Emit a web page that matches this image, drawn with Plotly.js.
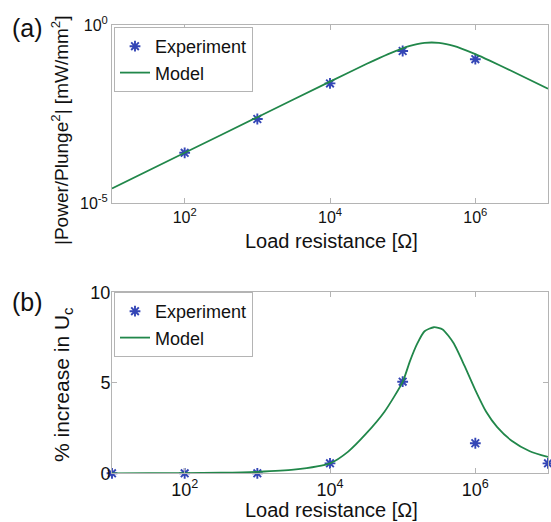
<!DOCTYPE html>
<html>
<head>
<meta charset="utf-8">
<script src="https://cdn.plot.ly/plotly-3.0.1.min.js"></script>
<style>html,body{margin:0;padding:0;background:#fff;}#chart{width:551px;height:522px;}</style>
</head>
<body>
<div id="chart"></div>
<script>
// ---- data ----
const xTickVals = [100, 10000, 1000000];
const xTickText = ['10<sup>2</sup>', '10<sup>4</sup>', '10<sup>6</sup>'];

// panel (a): power per plunge^2
const expA_R = [100, 1000, 10000, 100000, 1000000];
const expA_P = [2.57e-4, 2.29e-3, 0.0229, 0.186, 0.1096];
const modA_R = [10, 100, 1000, 1e4, 3.16e4, 6.31e4, 1e5, 1.26e5, 1.58e5, 2e5, 2.51e5, 3.16e5, 3.98e5, 5.01e5, 6.31e5, 1e6, 1.58e6, 3.16e6, 1e7];
const modA_P = [2.57e-5, 2.57e-4, 2.57e-3, 0.02564, 0.0800, 0.1524, 0.2218, 0.2588, 0.2911, 0.3144, 0.3228, 0.3145, 0.2911, 0.2588, 0.2218, 0.1524, 0.0998, 0.0509, 0.01622];
const yTickValsA = [1e-5, 1];
const yTickTextA = ['10<sup>-5</sup>', '10<sup>0</sup>'];

// panel (b): % increase in Uc
const expB_R = [10, 100, 1000, 10000, 100000, 1000000, 10000000];
const expB_U = [0, 0, 0, 0.55, 5.06, 1.66, 0.55];
const modB_R = [10, 31.6, 100, 316, 1000, 3160, 1e4, 1.78e4, 3.16e4, 5.62e4, 1e5, 1.26e5, 1.58e5, 2e5, 2.69e5, 3.55e5, 5.01e5, 7.08e5, 1e6, 1.41e6, 2e6, 3.16e6, 5.62e6, 1e7];
const modB_U = [0, 0.003, 0.01, 0.03, 0.08, 0.2, 0.55, 1.2, 2.2, 3.4, 5.05, 6.2, 7.15, 7.85, 8.07, 7.95, 7.2, 5.95, 4.6, 3.4, 2.55, 1.8, 1.22, 0.9];
const yTickValsB = [0, 5, 10];

// ---- styles ----
const FONT = 'Liberation Sans, Arial, sans-serif';
const BLUE = '#3446b6';
const GREEN = '#21874a';
const FRAME = '#b4b4b4';

const expMarker = {symbol: 'asterisk-open', size: 9, color: BLUE, line: {color: BLUE, width: 1.9}};

const traces = [
  {x: expA_R, y: expA_P, xaxis: 'x', yaxis: 'y', mode: 'markers', name: 'Experiment', marker: expMarker, legend: 'legend', cliponaxis: false},
  {x: modA_R, y: modA_P, xaxis: 'x', yaxis: 'y', mode: 'lines', name: 'Model', line: {color: GREEN, width: 1.8, shape: 'spline', smoothing: 0.6}, legend: 'legend'},
  {x: expB_R, y: expB_U, xaxis: 'x2', yaxis: 'y2', mode: 'markers', name: 'Experiment', marker: expMarker, legend: 'legend2', cliponaxis: false},
  {x: modB_R, y: modB_U, xaxis: 'x2', yaxis: 'y2', mode: 'lines', name: 'Model', line: {color: GREEN, width: 1.8, shape: 'spline', smoothing: 0.6}, legend: 'legend2'}
];

function xAxis(anchor, fs) {
  return {
    type: 'log', range: [1, 7], domain: [112/551, 548/551], anchor: anchor,
    tickvals: xTickVals, ticktext: xTickText, ticks: 'inside', ticklen: 5, tickcolor: FRAME,
    showline: true, linecolor: FRAME, linewidth: 1, mirror: 'ticks', showgrid: false, zeroline: false,
    tickfont: {family: FONT, size: fs, color: '#111'}, automargin: false
  };
}

const layout = {
  width: 551, height: 522,
  margin: {l: 0, r: 0, t: 0, b: 0},
  paper_bgcolor: '#fff', plot_bgcolor: '#fff',
  font: {family: FONT, color: '#111'},
  showlegend: true,
  xaxis: xAxis('y', 16),
  xaxis2: xAxis('y2', 18),
  yaxis: {
    type: 'log', range: [-5, 0], domain: [1 - 203/522, 1 - 25/522], anchor: 'x',
    tickvals: yTickValsA, ticktext: yTickTextA, ticks: 'inside', ticklen: 5, tickcolor: FRAME,
    showline: true, linecolor: FRAME, linewidth: 1, mirror: 'ticks', showgrid: false, zeroline: false,
    tickfont: {family: FONT, size: 16, color: '#111'}, automargin: false
  },
  yaxis2: {
    range: [0, 10], domain: [1 - 473.3/522, 1 - 292.3/522], anchor: 'x2',
    tickvals: yTickValsB, ticks: 'inside', ticklen: 5, tickcolor: FRAME,
    showline: true, linecolor: FRAME, linewidth: 1, mirror: 'ticks', showgrid: false, zeroline: false,
    tickfont: {family: FONT, size: 18, color: '#111'}, automargin: false, ticklabelstandoff: -3
  },
  legend: {
    x: 114/551, y: 1 - 27/522, xanchor: 'left', yanchor: 'top',
    bgcolor: '#fff', bordercolor: FRAME, borderwidth: 1, itemwidth: 30,
    font: {family: FONT, size: 18, color: '#111'}, tracegroupgap: 0
  },
  legend2: {
    x: 114/551, y: 1 - 292/522, xanchor: 'left', yanchor: 'top',
    bgcolor: '#fff', bordercolor: FRAME, borderwidth: 1, itemwidth: 30,
    font: {family: FONT, size: 18, color: '#111'}, tracegroupgap: 0
  },
  annotations: [
    {text: '(a)', xref: 'paper', yref: 'paper', x: 27/551, y: 1 - 28/522, xanchor: 'center', yanchor: 'middle', showarrow: false, font: {family: FONT, size: 25, color: '#111'}},
    {text: '(b)', xref: 'paper', yref: 'paper', x: 27/551, y: 1 - 302/522, xanchor: 'center', yanchor: 'middle', showarrow: false, font: {family: FONT, size: 25, color: '#111'}},
    {text: '|Power/Plunge<sup>2</sup>| [mW/mm<sup>2</sup>]', xref: 'paper', yref: 'paper', x: 60/551, y: 1 - 130/522, xanchor: 'center', yanchor: 'middle', textangle: -90, showarrow: false, font: {family: FONT, size: 19, color: '#111'}},
    {text: '% increase in U<sub>c</sub>', xref: 'paper', yref: 'paper', x: 63/551, y: 1 - 385/522, xanchor: 'center', yanchor: 'middle', textangle: -90, showarrow: false, font: {family: FONT, size: 21, color: '#111'}},
    {text: 'Load resistance [Ω]', xref: 'paper', yref: 'paper', x: 331/551, y: 1 - 241/522, xanchor: 'center', yanchor: 'middle', showarrow: false, font: {family: FONT, size: 20, color: '#111'}},
    {text: 'Load resistance [Ω]', xref: 'paper', yref: 'paper', x: 331/551, y: 1 - 510/522, xanchor: 'center', yanchor: 'middle', showarrow: false, font: {family: FONT, size: 20, color: '#111'}}
  ]
};

Plotly.newPlot('chart', traces, layout, {displayModeBar: false, staticPlot: true});
</script>
</body>
</html>
